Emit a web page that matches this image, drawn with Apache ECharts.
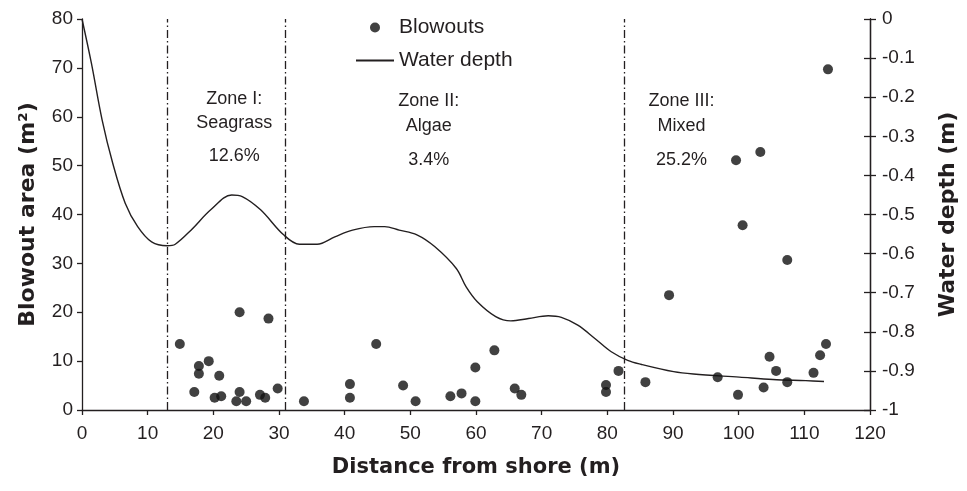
<!DOCTYPE html>
<html>
<head>
<meta charset="utf-8">
<script src="https://cdn.jsdelivr.net/npm/echarts@6/dist/echarts.min.js"></script>
<style>
html,body{margin:0;padding:0;background:#fff;}
#chart{width:967px;height:491px;}
</style>
</head>
<body>
<div id="chart"></div>
<script>
// ---- data ----
var blowoutDistance = [14.9,17.1,17.8,17.8,19.3,20.2,20.9,21.2,23.5,24.0,24.0,25.0,27.1,27.9,28.4,29.8,33.8,40.8,40.8,44.8,48.9,50.8,56.1,57.8,59.9,59.9,62.8,65.9,66.9,79.8,79.8,81.7,85.8,89.4,96.8,99.6,99.9,100.6,103.3,103.8,104.7,105.7,107.4,107.4,111.4,112.4,113.3,113.6];
var blowoutArea     = [13.5,3.7,9.0,7.4,10.0,2.5,7.0,2.8,1.8,20.0,3.7,1.8,3.1,2.5,18.7,4.4,1.8,5.3,2.5,13.5,5.0,1.8,2.8,3.4,8.7,1.8,12.2,4.4,3.1,5.1,3.7,8.0,5.7,23.5,6.7,51.1,3.1,37.8,52.8,4.6,10.9,8.0,5.7,30.7,7.6,11.2,13.5,69.7];

var depthDistance = [0,1.43,3.06,4.68,6.58,8.48,10.6,12.97,14.2,16.6,19.6,22.8,24.4,27.2,30.7,33.1,35.8,38.5,41.2,44.5,46.1,48.3,51.0,53.7,57.0,58.5,60.2,63.0,65.3,68.0,71.0,73.0,75.5,78.1,80.6,83.1,85.1,90.1,93.1,100.1,105.2,110.2,113.0];
var depthValue    = [0,-0.113,-0.258,-0.369,-0.471,-0.531,-0.570,-0.580,-0.576,-0.540,-0.488,-0.450,-0.454,-0.488,-0.552,-0.576,-0.576,-0.557,-0.540,-0.531,-0.531,-0.540,-0.552,-0.582,-0.638,-0.685,-0.723,-0.761,-0.772,-0.766,-0.759,-0.763,-0.783,-0.817,-0.851,-0.873,-0.883,-0.902,-0.908,-0.916,-0.922,-0.925,-0.927];

var zoneBoundaries = [13, 31, 82.5];
var zoneCenters    = [23.2, 52.8, 91.3];
var zoneTitles     = ['Zone I:', 'Zone II:', 'Zone III:'];
var zoneTypes      = ['Seagrass', 'Algae', 'Mixed'];
var zonePercents   = ['12.6%', '3.4%', '25.2%'];

var xTicks = {min: 0, max: 120, interval: 10};
var yLeftTicks = {min: 0, max: 80, interval: 10};
var yRightTicks = {min: -1, max: 0, interval: 0.1};

// ---- chart ----
var FONT = 'Liberation Sans, Arial, Helvetica, sans-serif';
var TFONT = 'DejaVu Sans, Liberation Sans, Arial, sans-serif';
var INK = '#231f20';
var chart = echarts.init(document.getElementById('chart'), null, {renderer: 'canvas'});

var scatterData = blowoutDistance.map(function (d, i) { return [d, blowoutArea[i]]; });
var lineData = depthDistance.map(function (d, i) { return [d, depthValue[i]]; });

function fmtDepth(v) {
  var r = Math.round(v * 10) / 10;
  if (r === 0) return '0';
  if (r === -1) return '-1';
  return r.toFixed(1);
}

var axisLine = {show: true, lineStyle: {color: INK, width: 1.3}};
var option = {
  animation: false,
  backgroundColor: '#fff',
  grid: {left: 82, right: 89, top: 19, bottom: 81, containLabel: false},
  legend: {
    orient: 'vertical',
    left: 350, top: 12,
    itemWidth: 38, itemHeight: 10, itemGap: 12,
    textStyle: {fontFamily: FONT, fontSize: 21, color: INK, lineHeight: 21},
    data: [
      {name: 'Blowouts', icon: 'circle'},
      {name: 'Water depth', itemStyle: {opacity: 0}}
    ]
  },
  xAxis: {
    type: 'value', min: xTicks.min, max: xTicks.max, interval: xTicks.interval,
    axisLine: axisLine,
    axisTick: {show: true, inside: false, length: 5, lineStyle: {color: INK, width: 1.3}},
    axisLabel: {fontFamily: FONT, fontSize: 19, color: INK, margin: 14},
    splitLine: {show: false},
    name: 'Distance from shore (m)', nameLocation: 'middle', nameGap: 47,
    nameTextStyle: {fontFamily: TFONT, fontSize: 21, fontWeight: 'bold', color: INK}
  },
  yAxis: [
    {
      type: 'value', position: 'left', min: yLeftTicks.min, max: yLeftTicks.max, interval: yLeftTicks.interval,
      axisLine: axisLine,
      axisTick: {show: true, inside: false, length: 5, lineStyle: {color: INK, width: 1.3}},
      axisLabel: {fontFamily: FONT, fontSize: 19, color: INK, margin: 9},
      splitLine: {show: false},
      name: 'Blowout area (m²)', nameLocation: 'middle', nameGap: 43,
      nameTextStyle: {fontFamily: TFONT, fontSize: 22, fontWeight: 'bold', color: INK}
    },
    {
      type: 'value', position: 'right', min: yRightTicks.min, max: yRightTicks.max, interval: yRightTicks.interval,
      axisLine: axisLine,
      axisTick: {show: true, inside: false, length: 6, lineStyle: {color: INK, width: 1.3}},
      axisLabel: {fontFamily: FONT, fontSize: 19, color: INK, margin: 12, formatter: fmtDepth},
      splitLine: {show: false},
      name: 'Water depth (m)', nameLocation: 'middle', nameGap: 67,
      nameTextStyle: {fontFamily: TFONT, fontSize: 22, fontWeight: 'bold', color: INK}
    },
    {
      type: 'value', position: 'right', min: yRightTicks.min, max: yRightTicks.max, interval: yRightTicks.interval,
      axisLine: axisLine,
      axisTick: {show: true, inside: true, length: 6, lineStyle: {color: INK, width: 1.3}},
      axisLabel: {show: false},
      splitLine: {show: false}
    }
  ],
  series: [
    {
      name: 'Blowouts', type: 'scatter', xAxisIndex: 0, yAxisIndex: 0,
      data: scatterData, symbol: 'circle', symbolSize: 10,
      itemStyle: {color: '#111'},
      z: 5,
      markLine: {
        silent: true, symbol: ['none', 'none'], label: {show: false},
        lineStyle: {color: INK, width: 1.3, type: [8, 3, 1.5, 3]},
        data: zoneBoundaries.map(function (b) { return {xAxis: b}; })
      }
    },
    {
      name: 'Water depth', type: 'line', xAxisIndex: 0, yAxisIndex: 1,
      data: lineData, symbol: 'none', showSymbol: false, smooth: 0.35,
      lineStyle: {color: INK, width: 1.4},
      itemStyle: {color: INK},
      z: 4
    }
  ]
};
chart.setOption(option);

// zone annotation texts, positioned horizontally from data coordinates
var rowYs = [[99, 123, 156], [101.5, 126, 160.5], [101.5, 126, 160.5]];
var elems = [];
zoneCenters.forEach(function (c, i) {
  var px = chart.convertToPixel({xAxisIndex: 0}, c);
  [zoneTitles[i], zoneTypes[i], zonePercents[i]].forEach(function (t, k) {
    elems.push({
      type: 'text', x: px, y: rowYs[i][k],
      style: {text: t, fontFamily: FONT, fontSize: 18, fill: INK, align: 'center', verticalAlign: 'middle'},
      silent: true, z: 10
    });
  });
});
chart.setOption({graphic: elems});
</script>
</body>
</html>
